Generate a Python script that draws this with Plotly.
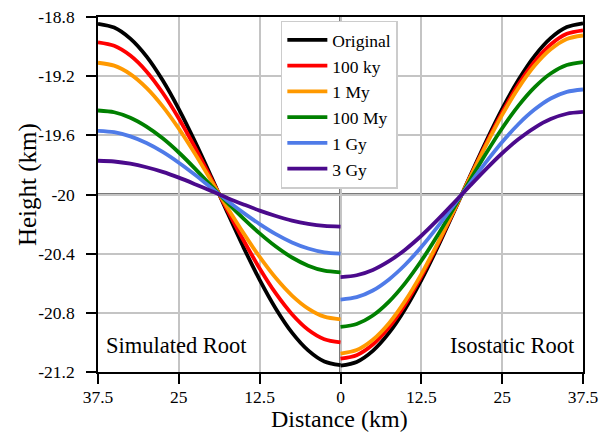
import plotly.graph_objects as go

# Distances (km) from the centre of the root, sampled every 2.5 km
dist = [0, 2.5, 5, 7.5, 10, 12.5, 15, 17.5, 20, 22.5, 25, 27.5, 30, 32.5, 35, 37.5]

labels = ["Original", "100 ky", "1 My", "100 My", "1 Gy", "3 Gy"]
colors = ["#000000", "#ff0000", "#ff9900", "#008000", "#4f7be8", "#4b0a8c"]

# Simulated root (left panel), listed from x = -37.5 to x = 0
sim_original = [-18.846, -18.871, -18.946, -19.066, -19.228, -19.423, -19.643, -19.879,
                -20.121, -20.357, -20.577, -20.772, -20.934, -21.054, -21.129, -21.154]
sim_100ky    = [-18.972, -18.995, -19.061, -19.168, -19.312, -19.486, -19.682, -19.893,
                -20.105, -20.309, -20.500, -20.669, -20.809, -20.914, -20.978, -21.000]
sim_1My      = [-19.109, -19.129, -19.186, -19.279, -19.404, -19.555, -19.725, -19.907,
                -20.088, -20.261, -20.422, -20.565, -20.683, -20.771, -20.826, -20.844]
sim_100My    = [-19.432, -19.444, -19.481, -19.541, -19.620, -19.716, -19.825, -19.941,
                -20.055, -20.163, -20.263, -20.352, -20.426, -20.481, -20.515, -20.526]
sim_1Gy      = [-19.570, -19.579, -19.607, -19.652, -19.712, -19.785, -19.867, -19.955,
                -20.042, -20.124, -20.200, -20.268, -20.324, -20.365, -20.391, -20.400]
sim_3Gy      = [-19.772, -19.777, -19.792, -19.816, -19.847, -19.886, -19.930, -19.976,
                -20.023, -20.067, -20.109, -20.145, -20.176, -20.198, -20.212, -20.217]

# Isostatic root (right panel), listed from x = 0 to x = 37.5
iso_original = [-21.157, -21.132, -21.057, -20.936, -20.774, -20.579, -20.358, -20.121,
                -19.879, -19.642, -19.421, -19.226, -19.064, -18.943, -18.868, -18.843]
iso_100ky    = [-21.110, -21.086, -21.014, -20.898, -20.743, -20.555, -20.343, -20.116,
                -19.884, -19.657, -19.445, -19.257, -19.102, -18.986, -18.914, -18.890]
iso_1My      = [-21.075, -21.052, -20.982, -20.870, -20.719, -20.538, -20.332, -20.112,
                -19.888, -19.668, -19.462, -19.281, -19.130, -19.018, -18.948, -18.925]
iso_100My    = [-20.895, -20.875, -20.818, -20.724, -20.599, -20.448, -20.277, -20.094,
                -19.906, -19.723, -19.552, -19.401, -19.276, -19.182, -19.125, -19.105]
iso_1Gy      = [-20.710, -20.694, -20.649, -20.574, -20.475, -20.355, -20.219, -20.074,
                -19.926, -19.781, -19.645, -19.525, -19.426, -19.351, -19.306, -19.290]
iso_3Gy      = [-20.558, -20.546, -20.510, -20.451, -20.373, -20.279, -20.172, -20.058,
                -19.942, -19.828, -19.721, -19.627, -19.549, -19.490, -19.454, -19.442]

sim = [sim_original, sim_100ky, sim_1My, sim_100My, sim_1Gy, sim_3Gy]
iso = [iso_original, iso_100ky, iso_1My, iso_100My, iso_1Gy, iso_3Gy]

xticks = [-37.5, -25, -12.5, 0, 12.5, 25, 37.5]
xticktext = ["37.5", "25", "12.5", "0", "12.5", "25", "37.5"]
yticks = [-21.2, -20.8, -20.4, -20.0, -19.6, -19.2, -18.8]
yticktext = ["-21.2", "-20.8", "-20.4", "-20", "-19.6", "-19.2", "-18.8"]

FONT = "Liberation Serif"

left_x = [-d for d in reversed(dist)]
right_x = dist

fig = go.Figure()
for lab, col, ys, yi in zip(labels, colors, sim, iso):
    fig.add_trace(go.Scatter(x=left_x, y=ys, mode="lines", name=lab, showlegend=True,
                             line=dict(color=col, width=3.8, shape="spline", smoothing=0.8)))
    fig.add_trace(go.Scatter(x=right_x, y=yi, mode="lines", name=lab, showlegend=False,
                             line=dict(color=col, width=3.8, shape="spline", smoothing=0.8)))

# darker reference lines at x = 0 and y = -20
fig.add_shape(type="line", xref="x", yref="y", x0=0, x1=0, y0=-21.2, y1=-18.8,
              line=dict(color="#7a7a7a", width=3), layer="below")
fig.add_shape(type="line", xref="x", yref="y", x0=-37.5, x1=37.5, y0=-20, y1=-20,
              line=dict(color="#7a7a7a", width=3), layer="below")

fig.add_annotation(x=-36.6, y=-21.02, xref="x", yref="y", text="Simulated Root",
                   showarrow=False, xanchor="left", yanchor="middle",
                   font=dict(family=FONT, size=22.5, color="black"))
fig.add_annotation(x=36.6, y=-21.02, xref="x", yref="y", text="Isostatic Root",
                   showarrow=False, xanchor="right", yanchor="middle",
                   font=dict(family=FONT, size=22.5, color="black"))

# axis titles
fig.add_annotation(x=0.497, y=-0.131, xref="paper", yref="paper", text="Distance (km)",
                   showarrow=False, xanchor="center", yanchor="middle",
                   font=dict(family=FONT, size=24, color="black"))
fig.add_annotation(x=-0.144, y=0.527, xref="paper", yref="paper", text="Height (km)",
                   showarrow=False, xanchor="center", yanchor="middle", textangle=-90,
                   font=dict(family=FONT, size=25, color="black"))

axis_common = dict(showline=True, linecolor="black", linewidth=1.5, mirror=True,
                   ticks="outside", ticklen=10, tickwidth=1.5, tickcolor="black",
                   showgrid=True, gridcolor="#c4c4c4", gridwidth=2, zeroline=False,
                   automargin=False,
                   tickfont=dict(family=FONT, size=17.5, color="black"))

fig.update_xaxes(range=[-37.5, 37.5], tickvals=xticks, ticktext=xticktext,
                 ticklabelstandoff=-2, **axis_common)
fig.update_yaxes(range=[-21.2, -18.8], tickvals=yticks, ticktext=yticktext,
                 ticklabelstandoff=8, **axis_common)

fig.update_layout(
    width=600, height=432,
    margin=dict(l=98, r=17, t=17, b=60, autoexpand=False),
    paper_bgcolor="white", plot_bgcolor="white",
    font=dict(family=FONT, color="black"),
    showlegend=True,
    legend=dict(x=0.377, y=0.99, xanchor="left", yanchor="top",
                bgcolor="white", bordercolor="#cccccc", borderwidth=1.5,
                font=dict(family=FONT, size=17.5, color="black"),
                traceorder="normal", itemwidth=40),
)

fig.write_html("out.html", config={"displayModeBar": False},
               post_script="document.body.style.margin='0';")
